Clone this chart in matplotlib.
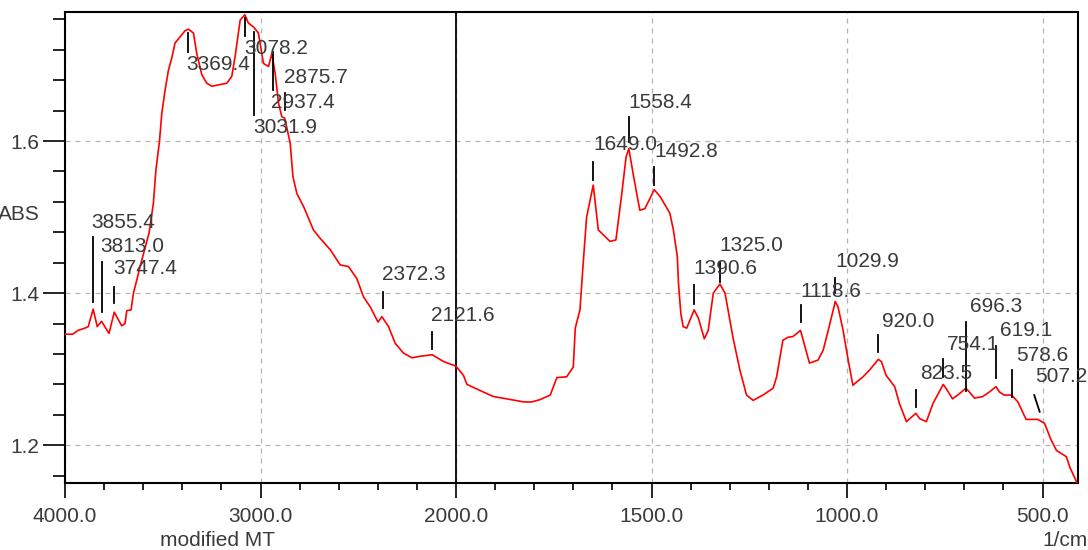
import numpy as np
import matplotlib
matplotlib.use("Agg")
import matplotlib.pyplot as plt

plt.rcParams['font.family'] = ['Liberation Sans', 'DejaVu Sans']

# spectrum (1/cm, ABS)
wavenumber = [4000, 3961, 3933, 3898, 3881, 3856, 3835, 3813, 3775, 3748,
              3710, 3693, 3684, 3662, 3650, 3633, 3616, 3570, 3548, 3535,
              3517, 3505, 3488, 3471, 3454, 3437, 3411, 3386, 3369, 3343,
              3326, 3300, 3275, 3249, 3172, 3147, 3130, 3113, 3104, 3080,
              3062, 3036, 3011, 2985, 2959, 2942, 2925, 2908, 2891, 2876,
              2848, 2834, 2814, 2780, 2729, 2695, 2643, 2592, 2550, 2507,
              2473, 2439, 2399, 2379, 2345, 2311, 2268, 2225, 2183, 2122,
              2063, 2000, 1981, 1972, 1930, 1904, 1870, 1827, 1806, 1785,
              1759, 1742, 1717, 1700, 1695, 1683, 1676, 1666, 1649, 1636,
              1606, 1591, 1576, 1565, 1558, 1547, 1530, 1517, 1493, 1478,
              1453, 1444, 1434, 1431, 1425, 1419, 1410, 1391, 1380, 1365,
              1355, 1342, 1325, 1312, 1291, 1274, 1257, 1240, 1215, 1189,
              1180, 1164, 1151, 1138, 1119, 1113, 1096, 1074, 1061, 1049,
              1030, 1023, 1010, 997, 985, 959, 942, 920, 912, 900,
              878, 866, 848, 824, 814, 797, 780, 754, 747, 730,
              712, 696, 687, 674, 653, 636, 619, 610, 598, 579,
              563, 542, 512, 495, 478, 464, 439, 430, 413, 400]
absorbance = [1.346, 1.346, 1.351, 1.354, 1.356, 1.379, 1.356, 1.363, 1.347, 1.375,
              1.357, 1.360, 1.377, 1.378, 1.400, 1.417, 1.435, 1.479, 1.518, 1.562,
              1.599, 1.636, 1.667, 1.693, 1.709, 1.729, 1.737, 1.745, 1.747, 1.742,
              1.715, 1.687, 1.676, 1.672, 1.676, 1.685, 1.711, 1.742, 1.759, 1.766,
              1.755, 1.750, 1.742, 1.702, 1.698, 1.715, 1.689, 1.650, 1.632, 1.630,
              1.597, 1.553, 1.531, 1.514, 1.483, 1.472, 1.457, 1.437, 1.435, 1.419,
              1.395, 1.382, 1.362, 1.369, 1.356, 1.334, 1.321, 1.315, 1.317, 1.319,
              1.310, 1.304, 1.292, 1.280, 1.270, 1.264, 1.261, 1.257, 1.257, 1.260,
              1.266, 1.289, 1.290, 1.303, 1.354, 1.378, 1.430, 1.500, 1.542, 1.483,
              1.468, 1.470, 1.531, 1.579, 1.590, 1.557, 1.509, 1.511, 1.536, 1.527,
              1.505, 1.483, 1.448, 1.413, 1.373, 1.356, 1.354, 1.378, 1.367, 1.340,
              1.351, 1.400, 1.412, 1.400, 1.340, 1.299, 1.266, 1.259, 1.266, 1.275,
              1.290, 1.338, 1.342, 1.343, 1.351, 1.340, 1.308, 1.312, 1.325, 1.349,
              1.389, 1.382, 1.351, 1.312, 1.279, 1.290, 1.299, 1.313, 1.310, 1.292,
              1.277, 1.255, 1.231, 1.242, 1.235, 1.231, 1.255, 1.280, 1.275, 1.261,
              1.268, 1.275, 1.270, 1.262, 1.264, 1.270, 1.277, 1.270, 1.266, 1.266,
              1.257, 1.234, 1.234, 1.229, 1.207, 1.193, 1.185, 1.171, 1.152, 1.130]

peaks = [3855.4, 3813.0, 3747.4, 3369.4, 3078.2, 3031.9, 2937.4, 2875.7,
         2372.3, 2121.6, 1649.0, 1558.4, 1492.8, 1390.6, 1325.0, 1118.6,
         1029.9, 920.0, 823.5, 754.1, 696.3, 619.1, 578.6, 507.2]

# label layout: tick top, tick bottom, text y, text shift (px), slant of tick
label_pos = [(1.474, 1.388, 1.493, -2, 0), (1.441, 1.375, 1.461, -1, 0),
             (1.408, 1.387, 1.432, -1, 0), (1.742, 1.717, 1.700, -2, 0),
             (1.762, 1.738, 1.721, -1, 0), (1.743, 1.634, 1.618, -1, 0),
             (1.717, 1.667, 1.651, -2, 0), (1.663, 1.641, 1.684, -1, 0),
             (1.402, 1.380, 1.425, -1, 0), (1.349, 1.327, 1.370, -1, 0),
             (1.573, 1.549, 1.595, 0, 0), (1.632, 1.599, 1.650, 0, 0),
             (1.566, 1.542, 1.586, 0, 0), (1.411, 1.386, 1.433, -1, 0),
             (1.441, 1.414, 1.463, -1, 0), (1.384, 1.362, 1.402, 0, 0),
             (1.420, 1.400, 1.441, 0, 0), (1.345, 1.323, 1.363, 4, 0),
             (1.273, 1.250, 1.295, 4, 0), (1.313, 1.290, 1.333, 4, 0),
             (1.362, 1.272, 1.382, 4, 0), (1.330, 1.288, 1.351, 4, 0),
             (1.299, 1.264, 1.318, 4, 0), (1.266, 1.244, 1.290, -5, 14)]


def fwd(x):
    x = np.asarray(x, dtype=float)
    return np.where(x >= 2000, x + 2000, 2 * x)


def inv(u):
    u = np.asarray(u, dtype=float)
    return np.where(u >= 4000, u - 2000, u / 2)


txt_col = '#3a3a3a'
fs = 15

fig = plt.figure(figsize=(10.88, 5.50), dpi=100)
ax = fig.add_axes([65 / 1088, 66.7 / 550, 1012.7 / 1088, 471.6 / 550])
ax.set_xscale('function', functions=(fwd, inv))
ax.set_xlim(4000, 410)
ax.set_ylim(1.15, 1.77)

ax.plot(wavenumber, absorbance, color='#ff0000', lw=1.2, zorder=3)

for w, (t0, t1, ty, dx, slant) in zip(peaks, label_pos):
    ax.plot([w + slant, w], [t0, t1], color='black', lw=1.3, zorder=4)
    ax.annotate('%.1f' % w, (w, ty), xytext=(dx * 0.72, 0), textcoords='offset points',
                ha='left', va='center', fontsize=fs, color=txt_col, zorder=5,
                annotation_clip=False)

ax.set_xticks([4000, 3000, 2000, 1500, 1000, 500])
ax.set_xticklabels(['4000.0', '3000.0', '2000.0', '1500.0', '1000.0', '500.0'])
minor_x = [w for w in range(3800, 2000, -200) if w != 3000] + \
          [w for w in range(1900, 400, -100) if w not in (1500, 1000, 500)]
ax.set_xticks(minor_x, minor=True)

ax.set_yticks([1.2, 1.4, 1.6])
ax.set_yticklabels(['1.2', '1.4', '1.6'])
minor_y = [round(v, 2) for v in np.arange(1.16, 1.77, 0.04)
           if round(v, 2) not in (1.2, 1.4, 1.6)]
ax.set_yticks(minor_y, minor=True)

ax.tick_params(axis='x', which='major', direction='out', length=10.8, width=1.2,
               pad=6, labelsize=fs, labelcolor=txt_col)
ax.tick_params(axis='x', which='minor', direction='out', length=5, width=1.2)
ax.tick_params(axis='y', which='major', direction='out', length=15.5, width=1.2,
               pad=3, labelsize=fs, labelcolor=txt_col)
ax.tick_params(axis='y', which='minor', direction='out', length=8.5, width=1.2)

ax.grid(True, which='major', linestyle=(0, (4, 4)), color='#b4b4b4', lw=0.9)
ax.axvline(2000, color='black', lw=1.3, zorder=2)

for s in ax.spines.values():
    s.set_linewidth(1.5)

fig.text(40 / 1088, 1 - 215 / 550, 'ABS', ha='right', va='center',
         fontsize=fs, color=txt_col)
fig.text(217 / 1088, 1 - 541 / 550, 'modified MT', ha='center', va='center',
         fontsize=fs, color=txt_col)
fig.text(1088 / 1088, 1 - 540 / 550, '1/cm', ha='right', va='center',
         fontsize=fs, color=txt_col)

fig.savefig('out.png', dpi=100)
